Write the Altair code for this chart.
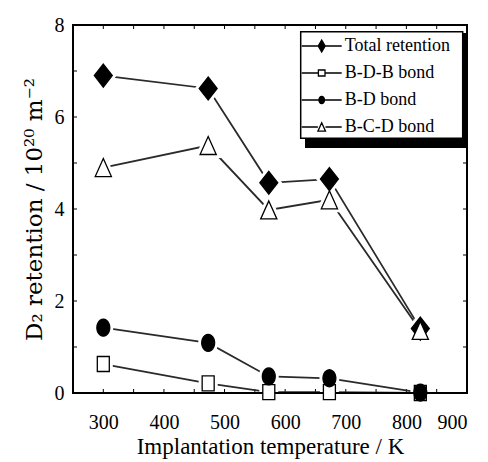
import math
import altair as alt
import pandas as pd

# ---- data ----
temps = [300, 473, 573, 673, 823]
series_names = ["Total retention", "B-D-B bond", "B-D bond", "B-C-D bond"]
total_retention = [6.90, 6.62, 4.57, 4.65, 1.40]
bdb_bond = [0.63, 0.21, 0.02, 0.02, 0.00]
bd_bond = [1.42, 1.09, 0.36, 0.32, 0.01]
bcd_bond = [4.90, 5.38, 3.98, 4.20, 1.36]

x_labels = [300, 400, 500, 600, 700, 800, 900]
x_minor = [300, 350, 400, 450, 500, 550, 600, 650, 700, 750, 800, 850]
y_labels = [0, 2, 4, 6, 8]
y_minor = [1, 2, 3, 4, 5, 6, 7]

rows = []
for name, vals in zip(series_names, [total_retention, bdb_bond, bd_bond, bcd_bond]):
    for t, v in zip(temps, vals):
        rows.append({"series": name, "T": t, "D": v})
df = pd.DataFrame(rows)

W, H = 394, 368
FONT = "Liberation Serif"


def ellipse_path(rx, ry, n=24, cx=0.0):
    pts = []
    for i in range(n):
        a = 2 * math.pi * i / n
        pts.append(f"{cx + rx * math.cos(a):.3f},{ry * math.sin(a):.3f}")
    return "M" + "L".join(pts) + "Z"


x_enc = alt.X(
    "T:Q",
    scale=alt.Scale(domain=[250, 900], nice=False, zero=False),
    axis=alt.Axis(values=x_labels, title="Implantation temperature / K",
                  labelFont="Liberation Serif", labelFontSize=20,
                  labelBaseline="alphabetic", labelPadding=35,
                  titleFont="serif", titleFontSize=23,
                  titleBaseline="alphabetic", titleY=60),
)
y_enc = alt.Y(
    "D:Q",
    scale=alt.Scale(domain=[0, 8], nice=False),
    axis=alt.Axis(values=y_labels,
                  title="D\u2082 retention / 10\u00b2\u2070 m\u207b\u00b2",
                  labelFont="Times New Roman", labelFontSize=20,
                  labelPadding=9, titleFont="DejaVu Serif", titleFontSize=23,
                  titleBaseline="alphabetic", titleX=-32, titleAngle=270),
)

# marker styles (chart)
marker_style = {
    "Total retention": ("M0,-1L0.78,0L0,1L-0.78,0Z", 529, "black"),
    "B-D-B bond": ("M-0.8,-1L0.8,-1L0.8,1L-0.8,1Z", 225, "white"),
    "B-D bond": (ellipse_path(0.76, 1.0), 289, "black"),
    "B-C-D bond": ("M0,-1L0.9,1L-0.9,1Z", 324, "white"),
}
legend_paths = [
    "M-2,0L-0.35,0M0.35,0L2,0M0,-0.6L0.35,0L0,0.6L-0.35,0Z",
    "M-2,0L-0.33,0M0.33,0L2,0M-0.33,-0.3L0.33,-0.3L0.33,0.3L-0.33,0.3Z",
    "M-2,0L-0.28,0M0.28,0L2,0" + ellipse_path(0.28, 0.36, 16),
    "M-2,0L-0.38,0M0.38,0L2,0M0,-0.42L0.38,0.42L-0.38,0.42Z",
]
legend_fills = ["black", "white", "black", "white"]
legend_strokes = ["black", "black", "black", "black"]

base = alt.Chart(df)

# ticks (inward)
xt = alt.Chart(pd.DataFrame({"T": x_minor}))
yt = alt.Chart(pd.DataFrame({"D": y_minor}))
ticks = [
    xt.mark_rule(color="black", strokeWidth=1).encode(x=x_enc, y=alt.value(H), y2=alt.value(H - 4)),
    xt.mark_rule(color="black", strokeWidth=1).encode(x=x_enc, y=alt.value(0), y2=alt.value(4)),
    yt.mark_rule(color="black", strokeWidth=1).encode(y=y_enc, x=alt.value(0), x2=alt.value(4)),
    yt.mark_rule(color="black", strokeWidth=1).encode(y=y_enc, x=alt.value(W), x2=alt.value(W - 4)),
]

lines = base.mark_line(color="#2a2a2a", strokeWidth=1.8).encode(
    x=x_enc, y=y_enc, detail="series:N", order="T:Q"
)

halos = []
markers = []
for name in series_names:
    path, size, fill = marker_style[name]
    sub = base.transform_filter(alt.datum.series == name)
    halos.append(
        sub.mark_point(shape=path, size=size, filled=True, fill="white", stroke="white",
                       strokeWidth=7, opacity=1).encode(x=x_enc, y=y_enc)
    )
    markers.append(
        sub.mark_point(shape=path, size=size, filled=True, fill=fill, stroke="black",
                       strokeWidth=1.3, opacity=1).encode(x=x_enc, y=y_enc)
    )

one = alt.Chart(pd.DataFrame({"k": [0]}))
frame = one.mark_rect(fill="transparent", stroke="black", strokeWidth=2).encode(
    x=alt.value(0), x2=alt.value(W), y=alt.value(0), y2=alt.value(H)
)
shadow = one.mark_rect(color="black").encode(
    x=alt.value(232), x2=alt.value(394), y=alt.value(8), y2=alt.value(123)
)
box = one.mark_rect(fill="white", stroke="black", strokeWidth=1.5).encode(
    x=alt.value(227.7), x2=alt.value(389.7), y=alt.value(6.7), y2=alt.value(113.3)
)

leg_kwargs = dict(
    title=None, orient="none", legendX=227.7, legendY=10, padding=0,
    symbolSize=400, symbolOffset=10, labelOffset=12, rowPadding=7,
    labelFont=FONT, labelFontSize=18, labelColor="black",
    symbolStrokeWidth=1.3,
)
legend_layer = base.transform_filter("false").mark_point(
    filled=True, opacity=1, strokeWidth=1.3
).encode(
    x=x_enc, y=y_enc,
    shape=alt.Shape("series:N", scale=alt.Scale(domain=series_names, range=legend_paths),
                    legend=alt.Legend(**leg_kwargs)),
    fill=alt.Fill("series:N", scale=alt.Scale(domain=series_names, range=legend_fills),
                  legend=alt.Legend(**leg_kwargs)),
    stroke=alt.Stroke("series:N", scale=alt.Scale(domain=series_names, range=legend_strokes),
                      legend=alt.Legend(**leg_kwargs)),
)

chart = alt.layer(
    *ticks, lines, *halos, frame, *markers, shadow, box, legend_layer
).properties(
    width=W, height=H,
    autosize=alt.AutoSizeParams(type="none"),
    padding={"left": 73, "top": 25, "right": 21, "bottom": 69},
    background="white",
).configure_view(stroke="transparent").configure_axis(
    grid=False, domain=False, ticks=False, tickSize=0,
    labelColor="black", titleFontWeight="normal", titleColor="black",
)

chart.save("out.html", embed_options={"renderer": "svg", "actions": False})
